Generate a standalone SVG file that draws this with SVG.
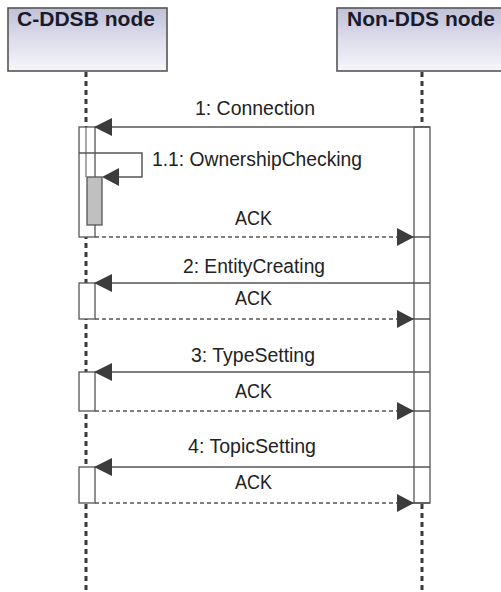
<svg xmlns="http://www.w3.org/2000/svg" width="501" height="592" viewBox="0 0 501 592">
<style>
.title{font-family:"Liberation Sans",Arial,sans-serif;font-weight:bold;font-size:20px;fill:#1a1a2a}
.lbl{font-family:"Liberation Sans",Arial,sans-serif;font-size:20px;fill:#222}
.box{stroke:#555;stroke-width:1.6}
.life{stroke:#3a3a3a;stroke-width:3;stroke-dasharray:5 4;fill:none}
.act{fill:#fff;stroke:#555;stroke-width:1.3}
.msg{stroke:#555;stroke-width:1.5;fill:none}
.ret{stroke:#555;stroke-width:1.5;fill:none;stroke-dasharray:4 3}
.head{fill:#3c3c3c}
</style>
<defs>
<linearGradient id="g" x1="0" y1="0" x2="0" y2="1">
<stop offset="0" stop-color="#c0c0d8"/>
<stop offset="0.55" stop-color="#e0e0ee"/>
<stop offset="1" stop-color="#f6f6fa"/>
</linearGradient>
</defs>
<rect width="501" height="592" fill="#fff"/>
<g id="lifelines">
<line class="life" x1="86" y1="72" x2="86" y2="592"/>
<line class="life" x1="422" y1="72" x2="422" y2="592"/>
</g>
<g id="node-cddsb">
<rect class="box" x="8" y="8" width="159" height="63" fill="url(#g)"/>
<text class="title" x="17" y="26" textLength="138" lengthAdjust="spacingAndGlyphs">C-DDSB node</text>
</g>
<g id="node-nondds">
<rect class="box" x="337" y="8" width="170" height="63" fill="url(#g)"/>
<text class="title" x="347" y="26" textLength="148" lengthAdjust="spacingAndGlyphs">Non-DDS node</text>
</g>
<g id="activations">
<rect class="act" x="414" y="127" width="16" height="376"/>
<rect class="act" x="79" y="127" width="16" height="110"/>
<line x1="86" y1="127" x2="86" y2="177" stroke="#555" stroke-width="1"/>
<rect x="87" y="177" width="15" height="48" fill="#c0c0c0" stroke="#555" stroke-width="1.3"/>
<rect class="act" x="79" y="283" width="16" height="36"/>
<rect class="act" x="79" y="372" width="16" height="39"/>
<rect class="act" x="79" y="467" width="16" height="36"/>
</g>
<g id="connectors">
<line class="msg" x1="95" y1="127" x2="430" y2="127"/>
<polygon class="head" points="94,127 112,118 112,136"/>
<text class="lbl" x="195" y="115" textLength="120" lengthAdjust="spacingAndGlyphs">1: Connection</text>
<polyline class="msg" points="79,153 142,153 142,177 104,177"/>
<polygon class="head" points="102,177 119,168 119,186"/>
<text class="lbl" x="152" y="166" textLength="210" lengthAdjust="spacingAndGlyphs">1.1: OwnershipChecking</text>
<line class="ret" x1="95" y1="237" x2="414" y2="237"/>
<line class="msg" x1="414" y1="237" x2="430" y2="237"/>
<polygon class="head" points="414,237 397,228 397,246"/>
<text class="lbl" x="235" y="225" textLength="37" lengthAdjust="spacingAndGlyphs">ACK</text>
<line class="msg" x1="95" y1="283" x2="430" y2="283"/>
<polygon class="head" points="94,283 112,274 112,292"/>
<text class="lbl" x="183" y="273" textLength="142" lengthAdjust="spacingAndGlyphs">2: EntityCreating</text>
<line class="ret" x1="95" y1="319" x2="414" y2="319"/>
<line class="msg" x1="414" y1="319" x2="430" y2="319"/>
<polygon class="head" points="414,319 397,310 397,328"/>
<text class="lbl" x="235" y="305" textLength="37" lengthAdjust="spacingAndGlyphs">ACK</text>
<line class="msg" x1="95" y1="372" x2="430" y2="372"/>
<polygon class="head" points="94,372 112,363 112,381"/>
<text class="lbl" x="191" y="362" textLength="124" lengthAdjust="spacingAndGlyphs">3: TypeSetting</text>
<line class="ret" x1="95" y1="411" x2="414" y2="411"/>
<line class="msg" x1="414" y1="411" x2="430" y2="411"/>
<polygon class="head" points="414,411 397,402 397,420"/>
<text class="lbl" x="235" y="398" textLength="37" lengthAdjust="spacingAndGlyphs">ACK</text>
<line class="msg" x1="95" y1="467" x2="430" y2="467"/>
<polygon class="head" points="94,467 112,458 112,476"/>
<text class="lbl" x="188" y="453" textLength="128" lengthAdjust="spacingAndGlyphs">4: TopicSetting</text>
<line class="ret" x1="95" y1="503" x2="414" y2="503"/>
<line class="msg" x1="414" y1="503" x2="430" y2="503"/>
<polygon class="head" points="414,503 397,494 397,512"/>
<text class="lbl" x="235" y="489" textLength="37" lengthAdjust="spacingAndGlyphs">ACK</text>
</g>
</svg>
